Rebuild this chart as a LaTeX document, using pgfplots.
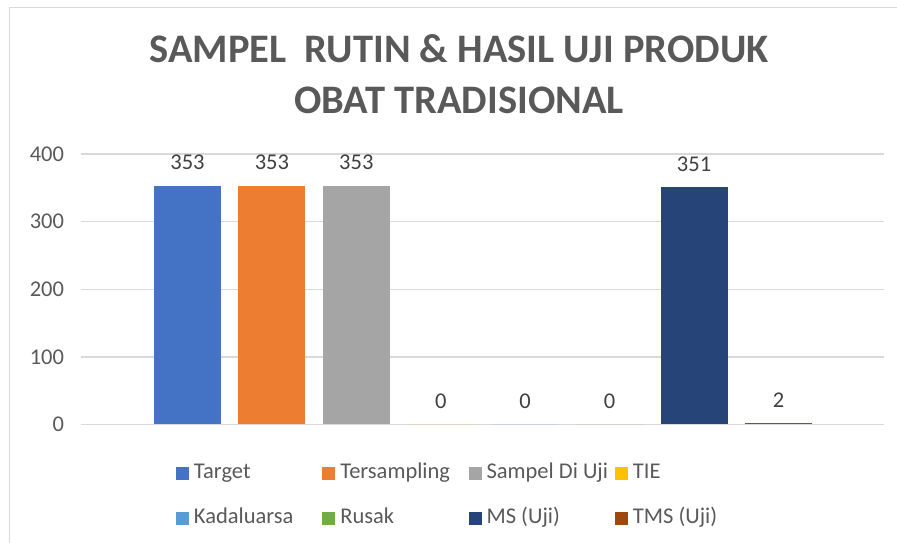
\documentclass[border=0pt]{standalone}
\usepackage{fontspec}
\setmainfont{Carlito}
\usepackage{pgfplots}
\pgfplotsset{compat=1.18}
\definecolor{cTarget}{HTML}{4472C4}
\definecolor{cTers}{HTML}{ED7D31}
\definecolor{cSampel}{HTML}{A5A5A5}
\definecolor{cTIE}{HTML}{FFC000}
\definecolor{cKad}{HTML}{5B9BD5}
\definecolor{cRusak}{HTML}{70AD47}
\definecolor{cMS}{HTML}{264478}
\definecolor{cTMS}{HTML}{9E480E}
\definecolor{gridgray}{HTML}{D9D9D9}
\definecolor{txtgray}{HTML}{595959}
\definecolor{lblgray}{HTML}{404040}

\begin{document}
\begin{tikzpicture}
\useasboundingbox (0pt,0pt) rectangle (897pt,543pt);
% chart border (left and top only visible)
\draw[gridgray, line width=1.3pt] (9.5pt,0pt) -- (9.5pt,535.5pt) -- (897pt,535.5pt);
% title
\node[font=\fontsize{40.5}{48}\selectfont\bfseries, text=txtgray, anchor=base] at (459pt,480pt) {SAMPEL\ \ RUTIN \& HASIL UJI PRODUK};
\node[font=\fontsize{40.5}{48}\selectfont\bfseries, text=txtgray, anchor=base] at (459pt,429pt) {OBAT TRADISIONAL};

\begin{axis}[
    at={(81pt,118.5pt)}, anchor=south west,
    scale only axis, width=803pt, height=270.5pt,
    xmin=-1.261, xmax=8.25, ymin=0, ymax=400,
    enlargelimits=false, clip=false,
    axis line style={draw=none},
    xtick=\empty,
    ytick={0,100,200,300,400},
    ymajorgrids, grid style={gridgray, line width=1.3pt},
    major tick length=0pt,
    /pgf/number format/assume math mode=true,
    yticklabel style={font=\fontsize{22.5}{27}\selectfont, text=txtgray, xshift=-13.5pt},
    bar width=67pt,
    nodes near coords,
    nodes near coords style={font=\fontsize{22.5}{27}\selectfont, text=lblgray, anchor=base, yshift=16pt},
    legend columns=4,
    legend cell align=left,
    legend image code/.code={\draw[#1, draw=none] (0pt,-6.5pt) rectangle (13pt,6.5pt);},
    legend style={draw=none, fill=none, inner sep=0pt, outer sep=0pt,
        at={(0.1183,-0.2643)}, anchor=west,
        font=\fontsize{22.5}{27}\selectfont, text=txtgray,
        /tikz/every odd column/.append style={column sep=5pt},
        /tikz/row sep=25pt,
        nodes={inner sep=0pt, text width=128.3pt, text height=15pt, text depth=5pt, align=flush left}},
]
\addplot[ybar, bar shift=0pt, fill=cTarget, draw=none] coordinates {(0,353)};
\addlegendentry{Target}
\addplot[ybar, bar shift=0pt, fill=cTers, draw=none] coordinates {(1,353)};
\addlegendentry{Tersampling}
\addplot[ybar, bar shift=0pt, fill=cSampel, draw=none] coordinates {(2,353)};
\addlegendentry{Sampel Di Uji}
\addplot[ybar, bar shift=0pt, fill=cTIE, draw=none] coordinates {(3,0)};
\addlegendentry{TIE}
\addplot[ybar, bar shift=0pt, fill=cKad, draw=none] coordinates {(4,0)};
\addlegendentry{Kadaluarsa}
\addplot[ybar, bar shift=0pt, fill=cRusak, draw=none] coordinates {(5,0)};
\addlegendentry{Rusak}
\addplot[ybar, bar shift=0pt, fill=cMS, draw=none] coordinates {(6,351)};
\addlegendentry{MS (Uji)}
\addplot[ybar, bar shift=0pt, fill=cTMS, draw=none] coordinates {(7,2)};
\addlegendentry{TMS (Uji)}
\end{axis}
\end{tikzpicture}
\end{document}
